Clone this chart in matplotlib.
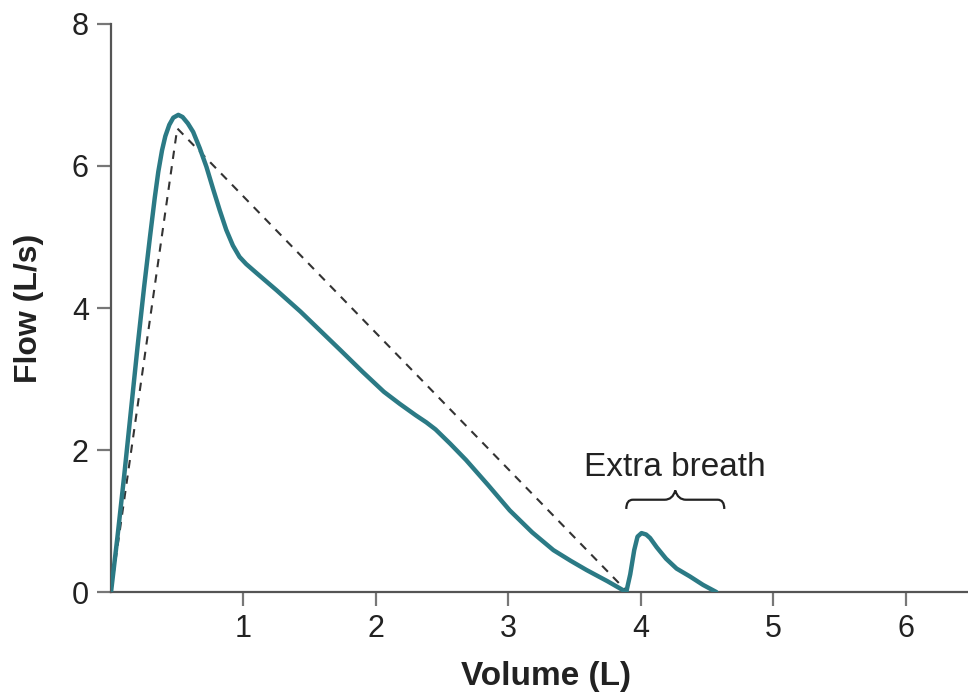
import numpy as np
import matplotlib.pyplot as plt
from matplotlib.path import Path
from matplotlib.patches import PathPatch

plt.rcParams['font.family'] = ['Liberation Sans', 'DejaVu Sans']

# =========================
# DATA
# =========================
# main forced expiration, volume (L) vs flow (L/s)
vol_main = [0.0, 0.05, 0.1, 0.15, 0.2, 0.25, 0.294, 0.33, 0.357, 0.385, 0.41,
            0.44, 0.47, 0.508, 0.54, 0.58, 0.62, 0.67, 0.72, 0.77, 0.82, 0.87,
            0.92, 0.97, 1.02, 1.1, 1.25, 1.43, 1.58, 1.73, 1.9, 2.06, 2.18,
            2.3, 2.38, 2.45, 2.56, 2.68, 2.85, 3.01, 3.18, 3.34, 3.47, 3.59,
            3.75, 3.89]
flow_main = [0.0, 0.8, 1.65, 2.55, 3.45, 4.3, 5.0, 5.55, 5.92, 6.22, 6.42,
             6.58, 6.68, 6.72, 6.69, 6.6, 6.48, 6.25, 5.99, 5.68, 5.38, 5.1,
             4.88, 4.72, 4.62, 4.49, 4.25, 3.95, 3.68, 3.41, 3.1, 2.82, 2.65,
             2.49, 2.39, 2.29, 2.09, 1.86, 1.5, 1.15, 0.84, 0.59, 0.44, 0.31,
             0.15, 0.0]

# extra breath at the end of the manoeuvre
vol_extra = [3.89, 3.92, 3.95, 3.975, 4.005, 4.04, 4.07, 4.12, 4.19, 4.27,
             4.37, 4.47, 4.57]
flow_extra = [0.0, 0.25, 0.59, 0.78, 0.83, 0.81, 0.76, 0.63, 0.47, 0.33,
              0.22, 0.1, 0.0]

# dashed reference triangle
vol_dash = [0.0, 0.5, 3.9]
flow_dash = [0.0, 6.53, 0.0]

x_ticks = [1, 2, 3, 4, 5, 6]
y_ticks = [0, 2, 4, 6, 8]

teal = '#2b7a85'
axis_gray = '#555555'

# =========================
# FIGURE
# =========================
fig = plt.figure(figsize=(9.68, 6.93), dpi=100)
ax = fig.add_axes([0.1147, 0.1457, 1 - 0.1147, 0.9654 - 0.1457])

ax.plot(vol_dash, flow_dash, color='#333333', lw=1.5, ls=(0, (4, 3.5)), zorder=2)
ax.plot(vol_main, flow_main, color=teal, lw=3.2, solid_capstyle='round',
        solid_joinstyle='round', zorder=3)
ax.plot(vol_extra, flow_extra, color=teal, lw=3.2, solid_capstyle='round',
        solid_joinstyle='round', zorder=3)

# curly brace over the extra breath
x0, x1, xm = 3.89, 4.63, 4.26
yb, yt, ytip = 1.17, 1.30, 1.43
verts = [(x0, yb), (x0, yt), (x0 + 0.05, yt), (x0 + 0.12, yt),
         (xm - 0.08, yt), (xm - 0.02, yt), (xm, ytip),
         (xm + 0.02, yt), (xm + 0.08, yt), (x1 - 0.12, yt),
         (x1 - 0.05, yt), (x1, yt), (x1, yb)]
codes = [Path.MOVETO, Path.CURVE3, Path.CURVE3, Path.LINETO,
         Path.LINETO, Path.CURVE3, Path.CURVE3,
         Path.CURVE3, Path.CURVE3, Path.LINETO,
         Path.LINETO, Path.CURVE3, Path.CURVE3]
ax.add_patch(PathPatch(Path(verts, codes), fill=False, lw=1.6,
                       edgecolor='#222222', zorder=3))
ax.text(4.26, 1.75, 'Extra breath', ha='center', va='center',
        fontsize=24, color='#222222')

# =========================
# AXES STYLE
# =========================
ax.set_xlim(0, 6.47)
ax.set_ylim(0, 8)
ax.set_xticks(x_ticks)
ax.set_yticks(y_ticks)
ax.spines['top'].set_visible(False)
ax.spines['right'].set_visible(False)
for s in ['left', 'bottom']:
    ax.spines[s].set_color(axis_gray)
    ax.spines[s].set_linewidth(1.6)
ax.tick_params(axis='both', length=10, width=1.6, color='#777777',
               labelsize=22, labelcolor='#222222', pad=6)

ax.set_xlabel('Volume (L)', fontsize=24, fontweight='bold', color='#222222',
              labelpad=12, x=0.508)
ax.set_ylabel('Flow (L/s)', fontsize=23, fontweight='bold', color='#222222',
              labelpad=20)

fig.savefig('out.png', dpi=100)
